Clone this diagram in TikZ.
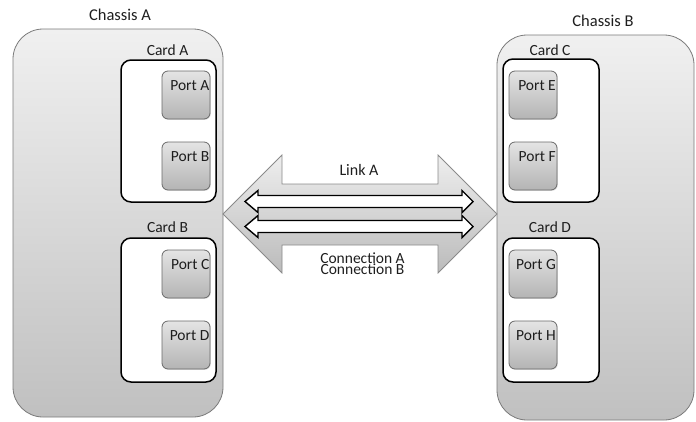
\documentclass[tikz,border=0pt]{standalone}
\usepackage{fontspec}
\setmainfont{Carlito}
\usetikzlibrary{shadows}
\definecolor{chtop}{HTML}{F0F0F0}
\definecolor{chbot}{HTML}{C0C0C0}
\definecolor{chline}{HTML}{7A7A7A}
\definecolor{pttop}{HTML}{E4E4E4}
\definecolor{ptbot}{HTML}{B4B4B4}
\definecolor{ptline}{HTML}{6A6A6A}
\definecolor{artop}{HTML}{EEEEEE}
\definecolor{arbot}{HTML}{BBBBBB}
\definecolor{arline}{HTML}{8A8A8A}
\definecolor{txt}{HTML}{1E1E1E}
% tight leading for stacked labels
\newcommand\tightlead{\lineskiplimit=-20pt\lineskip=0pt\relax}
\begin{document}
\begin{tikzpicture}[x=1pt,y=-1pt,
  box/.style={rectangle, inner sep=0pt, outer sep=0pt, anchor=north west},
  chassis/.style={box, draw=chline, line width=0.8pt, rounded corners=30pt,
    top color=chtop, bottom color=chbot},
  card/.style={box, draw=black, line width=1.5pt, rounded corners=10pt, fill=white},
  port/.style={box, draw=ptline, line width=0.8pt, rounded corners=6pt,
    top color=pttop, bottom color=ptbot,
    drop shadow={opacity=0.25, shadow xshift=0.8pt, shadow yshift=-0.8pt},
    minimum width=48pt, minimum height=48pt},
  lbl/.style={anchor=base, inner sep=0pt, text=txt, font=\fontsize{15.5}{17}\selectfont},
  plbl/.style={anchor=base east, inner sep=0pt, text=txt, font=\fontsize{15.5}{17}\selectfont},
  bigarrow/.style={draw=arline, line width=0.8pt, top color=artop, bottom color=arbot},
  linkarrow/.style={draw=black, line width=1.4pt, fill=white, line join=miter}]
\useasboundingbox (0,0) rectangle (696,421);

% Chassis A with its two cards
\node[chassis, minimum width=210pt, minimum height=388pt] (chA) at (13,29) {};
\node[lbl, font=\fontsize{16.5}{18}\selectfont] (chAl) at (120,20.5) {Chassis A};

\node[card, minimum width=95pt, minimum height=142pt] (cardA) at (121,60) {};
\node[lbl] (cardAl) at (167.5,55) {Card A};
\node[port] (portA) at (162,71) {};
\node[plbl] (portAl) at (209.5,90.5) {Port A};
\node[port] (portB) at (162,142) {};
\node[plbl] (portBl) at (209.5,161.5) {Port B};

\node[card, minimum width=95pt, minimum height=144pt] (cardB) at (121,238) {};
\node[lbl] (cardBl) at (167.5,232.5) {Card B};
\node[port] (portC) at (162,250) {};
\node[plbl] (portCl) at (209.5,269) {Port C};
\node[port] (portD) at (162,321) {};
\node[plbl] (portDl) at (209.5,340) {Port D};

% Chassis B with its two cards
\node[chassis, minimum width=197pt, minimum height=385pt] (chB) at (497,35) {};
\node[lbl, font=\fontsize{16.5}{18}\selectfont] (chBl) at (603,26.5) {Chassis B};

\node[card, minimum width=96pt, minimum height=143pt] (cardC) at (503,59) {};
\node[lbl] (cardCl) at (550,55) {Card C};
\node[port] (portE) at (509,71) {};
\node[plbl] (portEl) at (556,90.5) {Port E};
\node[port] (portF) at (509,142) {};
\node[plbl] (portFl) at (556,161.5) {Port F};

\node[card, minimum width=96pt, minimum height=144pt] (cardD) at (503,238) {};
\node[lbl] (cardDl) at (550,232.5) {Card D};
\node[port] (portG) at (509,250) {};
\node[plbl] (portGl) at (556,269) {Port G};
\node[port] (portH) at (509,321) {};
\node[plbl] (portHl) at (556,340) {Port H};

% Link between the chassis: a wide double arrow
\draw[bigarrow] (chA.east |- 0,214) -- (282,155) -- (282,184) -- (438,184)
  -- (438,155) -- (chB.west |- 0,214) -- (438,273) -- (438,245) -- (282,245)
  -- (282,273) -- cycle;
\node[lbl, font=\fontsize{16}{18}\selectfont] (linkA) at (359,175) {Link A};

% The two connections carried by the link
\foreach \c in {201.5, 226.5}{
  \draw[linkarrow] (245,\c) -- (258,\c-11) -- (258,\c-6) -- (462,\c-6)
    -- (462,\c-11) -- (473,\c) -- (462,\c+11) -- (462,\c+6) -- (258,\c+6)
    -- (258,\c+11) -- cycle;
}
% Both connection names in one tightly leaded block
\node[anchor=north, inner sep=0pt, text=txt, align=center,
  font={\fontsize{15.5}{10.9}\selectfont\tightlead}]
  (connl) at (362.5,252.8) {Connection A\\Connection B};
\end{tikzpicture}
\end{document}
